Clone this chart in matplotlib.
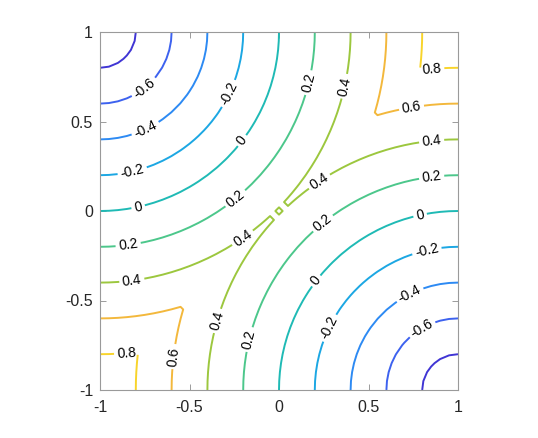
import numpy as np
import matplotlib
matplotlib.use("Agg")
import matplotlib.pyplot as plt

plt.rcParams['font.family'] = ['Liberation Sans', 'DejaVu Sans']

# ---- data ----
grid_values = np.linspace(-1.0, 1.0, 41)          # sampling grid of the field
anchor_x = [-1.0, 1.0]                             # corners that carry the minimum boundary value
anchor_y = [1.0, -1.0]
anchor_value = [-1.0, -1.0]

levels = [-0.8, -0.6, -0.4, -0.2, 0.0, 0.2, 0.4, 0.6, 0.8]
line_colors = ['#4035d4', '#3d62ef', '#2d8af3', '#1ca7e3', '#1fbab5',
               '#4cc78b', '#9cc73e', '#f3b83c', '#f8d42b']
tick_values = [-1, -0.5, 0, 0.5, 1]
tick_labels = ['-1', '-0.5', '0', '0.5', '1']

# approximate spots of the contour labels (layout only)
label_spots = [
    (-0.737, 0.665), (0.797, -0.655),
    (-0.749, 0.464), (0.732, -0.469),
    (-0.821, 0.229), (-0.263, 0.648), (0.825, -0.218), (0.285, -0.655),
    (-0.788, 0.028), (-0.190, 0.380), (0.788, -0.022), (0.201, -0.385),
    (-0.844, -0.179), (-0.236, 0.061), (0.173, 0.715), (0.853, 0.186),
    (0.238, -0.060), (-0.153, -0.721),
    (-0.821, -0.397), (-0.200, -0.155), (0.378, 0.694), (0.853, 0.387),
    (0.220, 0.173), (-0.330, -0.618),
    (0.741, 0.574), (-0.581, -0.814),
    (0.853, 0.797), (-0.851, -0.795),
]

# ---- field: Lipschitz (distance) extension of the boundary values ----
X, Y = np.meshgrid(grid_values, grid_values)
Z = np.min([v + np.hypot(X - cx, Y - cy)
            for cx, cy, v in zip(anchor_x, anchor_y, anchor_value)], axis=0)

fig = plt.figure(figsize=(5.38, 4.38), dpi=100)
ax = fig.add_axes([100 / 538, 48 / 438, 358 / 538, 358 / 438])

cs = ax.contour(X, Y, Z, levels=levels, colors=line_colors, linewidths=1.4)


def fmt(v):
    s = '{:g}'.format(round(v, 1))
    return '0' if s in ('-0', '0') else s


ax.clabel(cs, levels, manual=label_spots, inline=True, inline_spacing=3,
          fontsize=10, fmt=fmt, colors='black')

ax.set_xlim(-1, 1)
ax.set_ylim(-1, 1)
ax.set_xticks(tick_values)
ax.set_xticklabels(tick_labels)
ax.set_yticks(tick_values)
ax.set_yticklabels(tick_labels)
ax.tick_params(direction='in', length=4, width=0.6, color='#8c8c8c',
               labelsize=11.5, labelcolor='#262626', top=True, right=True, pad=5)
ax.tick_params(axis='x', pad=7)
for sp in ax.spines.values():
    sp.set_color('#9a9a9a')
    sp.set_linewidth(0.8)

fig.savefig('out.png', dpi=100)
